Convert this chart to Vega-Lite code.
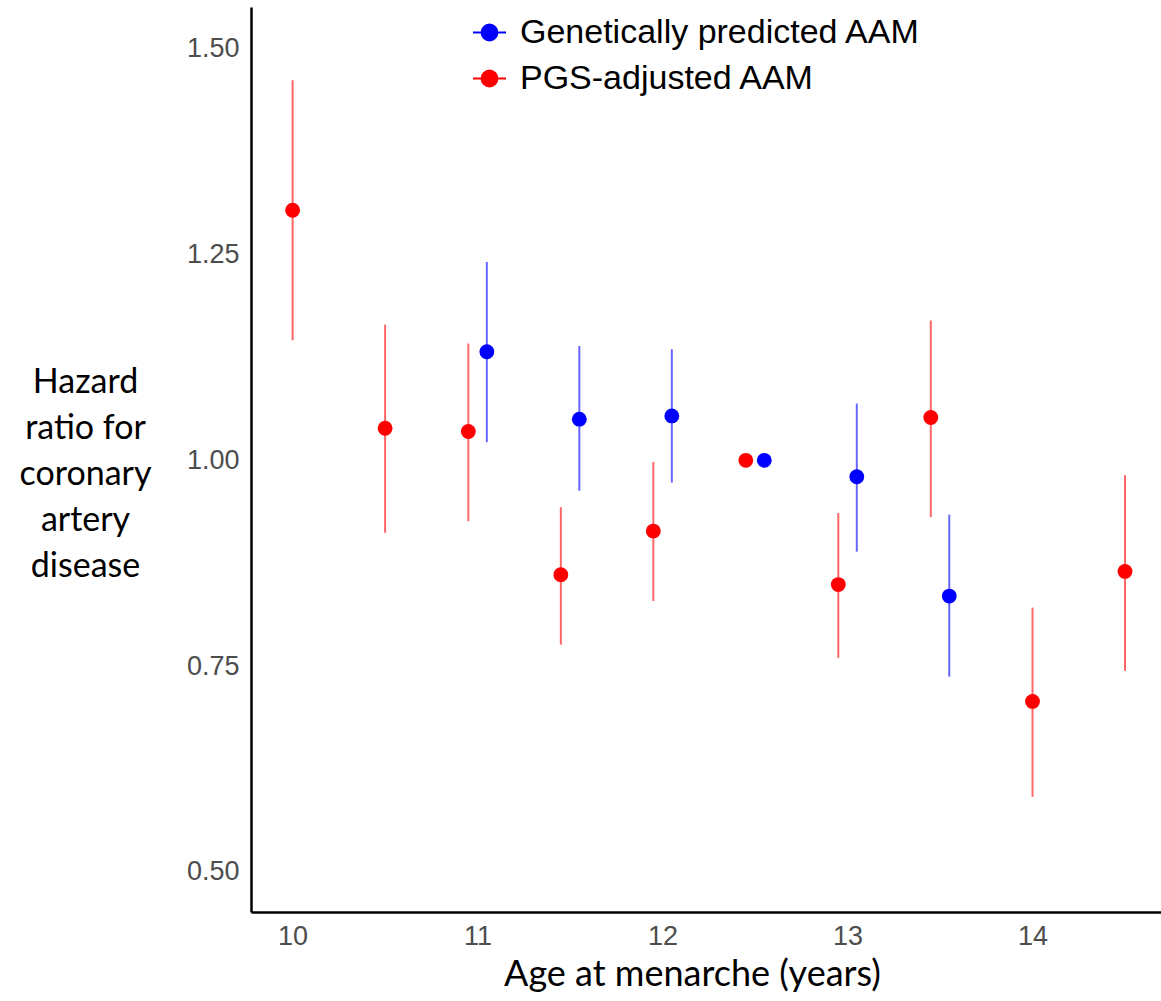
{
  "$schema": "https://vega.github.io/schema/vega-lite/v6.json",
  "width": 911,
  "height": 905,
  "autosize": {"type": "none"},
  "padding": {"left": 251, "top": 7, "right": 0, "bottom": 89},
  "background": "white",
  "config": {"view": {"stroke": null}, "axis": {"grid": false}},
  "data": {
    "values": [
      {"age": 10.0, "hr": 1.304, "lo": 1.146, "hi": 1.462, "group": "PGS-adjusted AAM"},
      {"age": 10.5, "hr": 1.039, "lo": 0.912, "hi": 1.165, "group": "PGS-adjusted AAM"},
      {"age": 10.95, "hr": 1.035, "lo": 0.926, "hi": 1.142, "group": "PGS-adjusted AAM"},
      {"age": 11.45, "hr": 0.861, "lo": 0.776, "hi": 0.943, "group": "PGS-adjusted AAM"},
      {"age": 11.95, "hr": 0.914, "lo": 0.829, "hi": 0.998, "group": "PGS-adjusted AAM"},
      {"age": 12.45, "hr": 1.0, "lo": 1.0, "hi": 1.0, "group": "PGS-adjusted AAM"},
      {"age": 12.95, "hr": 0.849, "lo": 0.760, "hi": 0.936, "group": "PGS-adjusted AAM"},
      {"age": 13.45, "hr": 1.052, "lo": 0.931, "hi": 1.170, "group": "PGS-adjusted AAM"},
      {"age": 14.0, "hr": 0.707, "lo": 0.591, "hi": 0.821, "group": "PGS-adjusted AAM"},
      {"age": 14.5, "hr": 0.865, "lo": 0.744, "hi": 0.982, "group": "PGS-adjusted AAM"},
      {"age": 11.05, "hr": 1.132, "lo": 1.022, "hi": 1.241, "group": "Genetically predicted AAM"},
      {"age": 11.55, "hr": 1.050, "lo": 0.963, "hi": 1.139, "group": "Genetically predicted AAM"},
      {"age": 12.05, "hr": 1.054, "lo": 0.973, "hi": 1.135, "group": "Genetically predicted AAM"},
      {"age": 12.55, "hr": 1.0, "lo": 1.0, "hi": 1.0, "group": "Genetically predicted AAM"},
      {"age": 13.05, "hr": 0.980, "lo": 0.889, "hi": 1.069, "group": "Genetically predicted AAM"},
      {"age": 13.55, "hr": 0.835, "lo": 0.737, "hi": 0.934, "group": "Genetically predicted AAM"}
    ]
  },
  "encoding": {
    "x": {
      "field": "age",
      "type": "quantitative",
      "scale": {"domain": [9.775, 14.7], "nice": false, "zero": false},
      "axis": {
        "values": [10, 11, 12, 13, 14],
        "ticks": false,
        "labelFont": "Liberation Sans",
        "labelFontSize": 27,
        "labelColor": "#4D4D4D",
        "labelPadding": 11,
        "domainColor": "black",
        "domainWidth": 2.5,
        "title": "Age at menarche (years)",
        "titleFont": "Lato",
        "titleFontSize": 36,
        "titleFontWeight": "normal",
        "titleColor": "black",
        "titleX": 441,
        "titleAlign": "center",
        "titlePadding": 8
      }
    },
    "color": {
      "field": "group",
      "type": "nominal",
      "scale": {"domain": ["Genetically predicted AAM", "PGS-adjusted AAM"], "range": ["#0000FF", "#FF0000"]},
      "legend": {
        "title": null,
        "orient": "none",
        "legendX": 221,
        "legendY": 8,
        "padding": 0,
        "symbolType": "M-1,0L1,0M0.48,0A0.48,0.48,0,1,1,-0.48,0A0.48,0.48,0,1,1,0.48,0Z",
        "symbolSize": 1089,
        "symbolStrokeWidth": 2,
        "symbolOpacity": 1,
        "labelFont": "Liberation Sans",
        "labelFontSize": 34,
        "labelColor": "black",
        "labelLimit": 700,
        "labelOffset": 13,
        "rowPadding": 11,
        "encode": {"symbols": {"update": {"stroke": {"scale": "color", "field": "value"}, "fill": {"scale": "color", "field": "value"}}}}
      }
    }
  },
  "layer": [
    {
      "mark": {"type": "rule", "strokeWidth": 2, "opacity": 0.6},
      "encoding": {
        "y": {
          "field": "lo",
          "type": "quantitative",
          "scale": {"domain": [0.451, 1.551], "nice": false, "zero": false},
          "axis": {
            "values": [0.5, 0.75, 1.0, 1.25, 1.5],
            "format": ".2f",
            "ticks": false,
            "labelFont": "Liberation Sans",
            "labelFontSize": 27,
            "labelColor": "#4D4D4D",
            "labelPadding": 12,
            "domainColor": "black",
            "domainWidth": 2.5,
            "title": ["Hazard", "ratio for", "coronary", "artery", "disease"],
            "titleFont": "Lato",
            "titleFontSize": 34,
            "titleFontWeight": "normal",
            "titleColor": "black",
            "titleAngle": 0,
            "titleAlign": "center",
            "titleBaseline": "middle",
            "titleLineHeight": 46,
            "titleX": -166,
            "titleY": 375
          }
        },
        "y2": {"field": "hi"}
      }
    },
    {
      "mark": {"type": "point", "filled": true, "opacity": 1, "size": 220},
      "encoding": {
        "y": {"field": "hr", "type": "quantitative"}
      }
    }
  ]
}
